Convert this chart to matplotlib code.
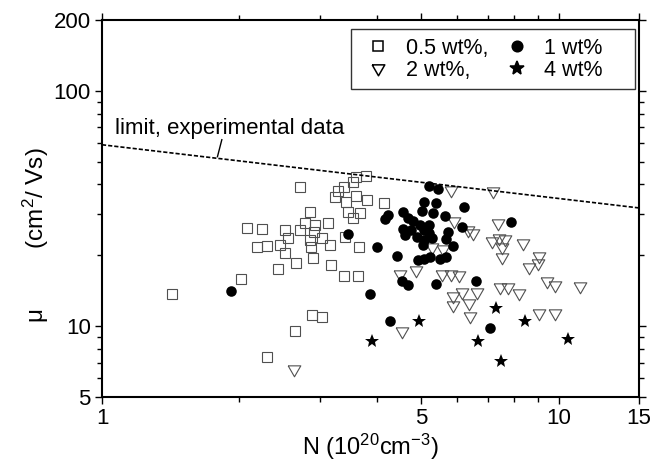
import matplotlib
matplotlib.use("Agg")
import matplotlib.pyplot as plt
from matplotlib.ticker import NullFormatter

plt.rcParams["font.family"] = ["Liberation Sans", "DejaVu Sans"]
plt.rcParams["mathtext.fontset"] = "custom"
plt.rcParams["mathtext.rm"] = "Liberation Sans"
plt.rcParams["mathtext.it"] = "Liberation Sans:italic"

# 0.5 wt%
sq_n = [1.42, 2.02, 2.08, 2.24, 2.19, 2.30, 2.52, 2.56, 2.45, 2.52, 2.43, 2.66,
        2.72, 2.65, 2.30, 3.24, 3.29, 3.38, 3.55, 3.60, 3.79, 3.42, 3.60, 3.80,
        3.46, 3.54, 3.67, 4.15, 2.86, 2.78, 2.93, 3.12, 2.72, 2.91, 2.86, 3.03,
        2.87, 3.16, 3.41, 3.66, 2.90, 3.18, 3.38, 3.64, 2.88, 3.04]
sq_mu = [13.7, 15.9, 26.1, 25.9, 21.8, 22.0, 25.7, 23.8, 22.2, 20.4, 17.5, 18.5,
         38.9, 9.55, 7.4, 35.4, 37.4, 39.0, 41.0, 43.1, 43.5, 33.7, 35.6, 34.5,
         30.7, 28.8, 30.2, 33.4, 30.7, 27.4, 27.0, 27.4, 25.7, 25.2, 23.3, 23.7,
         21.7, 22.2, 24.0, 21.6, 19.5, 18.2, 16.3, 16.4, 11.2, 10.9]

# 1 wt%
ci_n = [1.92, 3.46, 3.86, 4.27, 4.00, 4.42, 5.19, 5.45, 6.22, 5.06, 5.39, 4.57,
        5.01, 5.32, 5.64, 4.24, 4.17, 4.69, 4.81, 4.97, 5.19, 4.57, 4.76, 5.06,
        5.21, 4.61, 4.89, 5.06, 5.27, 5.73, 6.13, 5.68, 5.88, 5.04, 4.93, 5.06,
        5.23, 5.50, 5.68, 4.53, 4.69, 5.38, 6.58, 7.87, 7.07]
ci_mu = [14.1, 24.7, 13.7, 10.5, 21.8, 19.9, 39.3, 38.3, 32.1, 33.6, 33.4, 30.7,
         31.0, 30.3, 29.5, 29.6, 28.5, 28.8, 27.9, 27.0, 27.0, 25.9, 25.7, 25.7,
         24.9, 24.5, 23.9, 23.3, 23.7, 25.2, 26.4, 23.4, 21.9, 22.2, 19.1, 19.3,
         19.7, 19.3, 19.7, 15.5, 14.9, 15.1, 15.5, 27.6, 9.86]

# 2 wt%
tr_n = [2.63, 4.54, 4.49, 4.86, 5.55, 5.80, 6.06, 5.29, 5.57, 5.80, 5.90, 6.34,
        6.48, 5.88, 5.88, 6.13, 6.38, 6.61, 6.40, 7.19, 7.38, 7.14, 7.41, 7.62,
        7.51, 8.35, 7.51, 9.07, 9.03, 8.63, 9.45, 9.82, 11.14, 7.44, 7.76, 8.18,
        9.07, 9.82]
tr_mu = [6.55, 9.5, 16.7, 17.4, 16.7, 16.7, 16.5, 21.8, 21.3, 38.0, 27.9, 25.7,
         24.9, 13.4, 12.3, 14.0, 12.5, 14.0, 11.0, 37.4, 27.4, 23.1, 23.7, 23.4,
         21.8, 22.5, 19.7, 19.8, 18.5, 17.8, 15.6, 15.0, 14.8, 14.6, 14.6, 13.9,
         11.4, 11.4]

# 4 wt%
st_n = [3.91, 4.95, 7.31, 8.44, 6.67, 10.5, 7.48]
st_mu = [8.65, 10.5, 11.9, 10.5, 8.65, 8.8, 7.1]

# experimental limit line
lim_n = [1, 15]
lim_mu = [59, 31.8]

fig = plt.figure(figsize=(6.6, 4.65), dpi=100)
ax = fig.add_axes([102 / 660, 68 / 465, 537 / 660, 377 / 465])

# closed, equilateral downward triangle
tri = [(-0.866, 0.5), (0.866, 0.5), (0, -1.0), (-0.866, 0.5)]
grey = "#505050"

h_sq, = ax.plot(sq_n, sq_mu, ls="none", marker="s", ms=6.6, mfc="none",
                mec=grey, mew=0.8)
h_tr, = ax.plot(tr_n, tr_mu, ls="none", marker=tri, ms=10.5, mfc="none",
                mec=grey, mew=0.8)
h_ci, = ax.plot(ci_n, ci_mu, ls="none", marker="o", ms=7.6, mfc="black",
                mec="black", mew=0)
h_st, = ax.plot(st_n, st_mu, ls="none", marker="*", ms=10, mfc="black",
                mec="black", mew=0)

ax.plot(lim_n, lim_mu, color="black", lw=1.2, ls=(0, (2.5, 1.2)))
ax.text(1.07, 69, "limit, experimental data", fontsize=16, va="center",
        ha="left")
ax.plot([1.83, 1.79], [62, 52.5], color="black", lw=1.0)

ax.set_xscale("log")
ax.set_yscale("log")
ax.set_xlim(1, 15)
ax.set_ylim(5, 200)

ax.set_xticks([1, 5, 10, 15], labels=["1", "5", "10", "15"])
ax.set_xticks([2, 3, 4, 6, 7, 8, 9], minor=True)
ax.xaxis.set_minor_formatter(NullFormatter())
ax.set_yticks([5, 10, 100, 200], labels=["5", "10", "100", "200"])
ax.set_yticks([6, 7, 8, 9, 20, 30, 40, 50, 60, 70, 80, 90], minor=True)
ax.yaxis.set_minor_formatter(NullFormatter())

ax.tick_params(which="both", direction="out", top=True, right=True,
               labelsize=16, width=1.0, pad=3)
ax.tick_params(which="major", length=5)
ax.tick_params(which="minor", length=3.5)
for s in ax.spines.values():
    s.set_linewidth(1.5)

ax.set_xlabel("N (10$^{20}$cm$^{-3}$)", fontsize=17, labelpad=2)
ax.set_ylabel("μ         (cm$^{2}$/ Vs)", fontsize=17.5)
ax.yaxis.set_label_coords(-0.095, 0.43)

leg = ax.legend([h_sq, h_tr, h_ci, h_st],
                ["0.5 wt%,", "2 wt%,", "1 wt%    ", "4 wt%    "],
                ncol=2, loc="upper right", bbox_to_anchor=(0.9925, 0.976),
                borderaxespad=0, fontsize=15.5, frameon=True, fancybox=False,
                edgecolor="black", handlelength=1.7, handletextpad=0.42,
                columnspacing=0.47, labelspacing=0.05, borderpad=0.4)
leg.get_frame().set_linewidth(1.0)
for h in leg.legend_handles:
    h.set_markeredgecolor("black")
    h.set_markeredgewidth(1.1)

fig.savefig("out.png", dpi=100)
